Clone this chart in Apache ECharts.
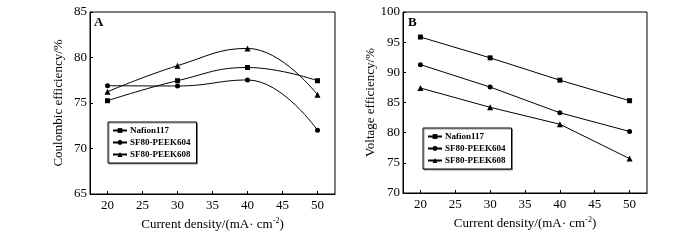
<!DOCTYPE html>
<html>
<head>
<meta charset="utf-8">
<script src="https://cdn.jsdelivr.net/npm/echarts@6/dist/echarts.min.js"></script>
<style>
  html, body { margin: 0; padding: 0; background: #fff; }
  #chart { width: 700px; height: 240px; }
</style>
</head>
<body>
<div id="chart"></div>
<script>
var seriesNames = ['Nafion117', 'SF80-PEEK604', 'SF80-PEEK608'];
var symbols = ['rect', 'circle', 'triangle'];
var currentDensity = [20, 30, 40, 50];
var xTicks = [20, 25, 30, 35, 40, 45, 50];

// panel A: coulombic efficiency (%)
var ceNafion = [75.25, 77.45, 78.9, 77.45];
var ce604 = [76.9, 76.87, 77.53, 72.0];
var ce608 = [76.24, 79.1, 81.0, 75.9];

// panel B: voltage efficiency (%)
var veNafion = [95.85, 92.4, 88.7, 85.3];
var ve604 = [91.27, 87.56, 83.3, 80.2];
var ve608 = [87.4, 84.2, 81.4, 75.7];

var font = '"Liberation Serif", "Times New Roman", serif';

function pairs(xs, ys) {
    var out = [];
    for (var i = 0; i < xs.length; i++) {
        out.push([xs[i], ys[i]]);
    }
    return out;
}

function xAxisFor(idx) {
    return {
        gridIndex: idx,
        type: 'value',
        min: 17.5,
        max: 52.5,
        name: 'Current density/(mA· cm{sup|-2})',
        nameLocation: 'middle',
        nameGap: 20,
        nameTextStyle: {
            fontFamily: font, fontSize: 13, color: '#000',
            rich: { sup: { fontFamily: font, fontSize: 8, color: '#000', padding: [0, 0, 7, 0] } }
        },
        axisLine: { show: true, lineStyle: { color: '#000', width: 1 } },
        axisTick: { show: true, inside: true, length: 3, customValues: xTicks, lineStyle: { color: '#000' } },
        axisLabel: { customValues: xTicks, fontFamily: font, fontSize: 13, color: '#000', margin: 5 },
        splitLine: { show: false }
    };
}

function yAxisFor(idx, min, max, title) {
    return {
        gridIndex: idx,
        type: 'value',
        min: min,
        max: max,
        interval: 5,
        name: title,
        nameLocation: 'middle',
        nameGap: 25,
        nameTextStyle: { fontFamily: font, fontSize: 13, color: '#000' },
        axisLine: { show: true, lineStyle: { color: '#000', width: 1 } },
        axisTick: { show: true, inside: true, length: 3, lineStyle: { color: '#000' } },
        axisLabel: { fontFamily: font, fontSize: 13, color: '#000', margin: 3 },
        splitLine: { show: false }
    };
}

function lineSeries(i, idx, ys, smooth) {
    return {
        name: seriesNames[i],
        type: 'line',
        xAxisIndex: idx,
        yAxisIndex: idx,
        data: pairs(currentDensity, ys),
        smooth: smooth,
        symbol: symbols[i],
        symbolSize: i === 2 ? 6 : 5,
        showAllSymbol: true,
        lineStyle: { color: '#000', width: 1 },
        itemStyle: { color: '#000' }
    };
}

function legendAt(left, top) {
    return {
        left: left,
        top: top,
        orient: 'vertical',
        data: seriesNames,
        itemWidth: 14,
        itemHeight: 6,
        itemGap: 3,
        padding: [4, 6, 4, 4],
        borderColor: '#000',
        borderWidth: 1,
        backgroundColor: '#fff',
        shadowColor: 'rgba(0,0,0,0.4)',
        shadowOffsetX: 1,
        shadowOffsetY: 1,
        selectedMode: false,
        textStyle: { fontFamily: font, fontSize: 9, fontWeight: 'bold', color: '#000', padding: [0, 0, 0, -2] }
    };
}

var dom = document.getElementById('chart');
var myChart = echarts.init(dom);
var option = {
    backgroundColor: '#fff',
    animation: false,
    grid: [
        { left: 90, top: 12, width: 245, height: 182, show: true, borderColor: '#000', borderWidth: 1 },
        { left: 403, top: 12, width: 244, height: 181, show: true, borderColor: '#000', borderWidth: 1 }
    ],
    legend: [legendAt(108, 122), legendAt(423, 128)],
    xAxis: [xAxisFor(0), xAxisFor(1)],
    yAxis: [
        yAxisFor(0, 65, 85, 'Coulombic efficiency/%'),
        yAxisFor(1, 70, 100, 'Voltage efficiency/%')
    ],
    graphic: [
        { type: 'text', left: 94, top: 16, style: { text: 'A', font: 'bold 13px ' + font, fill: '#000' } },
        { type: 'text', left: 408, top: 16, style: { text: 'B', font: 'bold 13px ' + font, fill: '#000' } }
    ],
    series: [
        lineSeries(0, 0, ceNafion, 0.45),
        lineSeries(1, 0, ce604, 0.45),
        lineSeries(2, 0, ce608, 0.45),
        lineSeries(0, 1, veNafion, false),
        lineSeries(1, 1, ve604, false),
        lineSeries(2, 1, ve608, false)
    ]
};
if (option && typeof option === "object") {
    myChart.setOption(option, true);
}
</script>
</body>
</html>
